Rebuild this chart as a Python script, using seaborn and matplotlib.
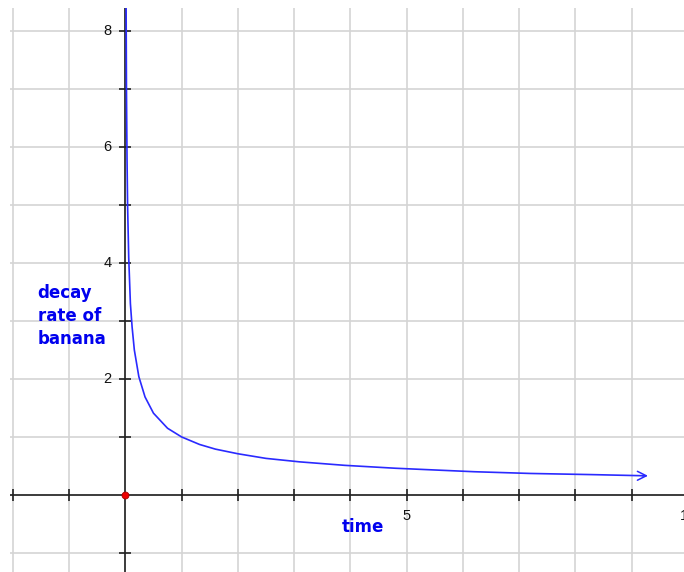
import matplotlib
matplotlib.use("Agg")
import matplotlib.pyplot as plt
import seaborn as sns
import pandas as pd

# values
time_vals = [0.014, 0.02, 0.03, 0.04, 0.06, 0.09, 0.12, 0.16, 0.24, 0.35, 0.5, 0.75,
             1.0, 1.32, 1.6, 2.0, 2.5, 3.1, 3.9, 4.8, 5.5, 6.2, 7.2, 8.3, 9.24]
decay_vals = [8.4, 7.0, 5.8, 5.0, 4.1, 3.3, 2.9, 2.5, 2.04, 1.69, 1.41, 1.15,
              1.0, 0.87, 0.79, 0.71, 0.63, 0.57, 0.51, 0.46, 0.43, 0.40, 0.37, 0.35, 0.33]
x_grid = [-2, -1, 0, 1, 2, 3, 4, 5, 6, 7, 8, 9]
y_grid = [-1, 0, 1, 2, 3, 4, 5, 6, 7, 8]
x_tick_marks = [-2, -1, 1, 2, 3, 4, 5, 6, 7, 8, 9]
y_tick_marks = [-1, 1, 2, 3, 4, 5, 6, 7, 8]
x_labels = {5: "5", 10: "10"}
y_labels = {2: "2", 4: "4", 6: "6", 8: "8"}
y_title = "decay\nrate of\nbanana"
x_title = "time"

sns.set_style("white")
plt.rcParams["font.family"] = ["Liberation Sans", "DejaVu Sans"]

fig = plt.figure(figsize=(6.84, 5.72), dpi=100)
ax = fig.add_axes([10 / 684, 0, 674 / 684, 564 / 572])
ax.set_xlim(-2.05, 9.93)
ax.set_ylim(-1.33, 8.40)

ax.set_xticks(x_grid)
ax.set_yticks(y_grid)
ax.grid(True, color="#d4d4d4", lw=1.2)
ax.tick_params(length=0, labelbottom=False, labelleft=False)
for s in ax.spines.values():
    s.set_visible(False)

ax.axhline(0, color="#222222", lw=1.2, zorder=2)
ax.axvline(0, color="#222222", lw=1.2, zorder=2)
ax.plot(x_tick_marks, [0] * len(x_tick_marks), ls="none", marker="|", ms=9, mew=1.2, color="#222222", zorder=2)
ax.plot([0] * len(y_tick_marks), y_tick_marks, ls="none", marker="_", ms=9, mew=1.2, color="#222222", zorder=2)

for v, t in x_labels.items():
    ax.text(v, -0.24, t, ha="center", va="top", fontsize=10.5, color="#111111", clip_on=False)
for v, t in y_labels.items():
    ax.text(-0.24, v, t, ha="right", va="center", fontsize=10.5, color="#111111")

df = pd.DataFrame({"time": time_vals, "decay": decay_vals})
sns.lineplot(data=df, x="time", y="decay", color="#2a2aff", lw=1.2, estimator=None,
             sort=True, ax=ax, zorder=3)
ax.set_xlabel("")
ax.set_ylabel("")
ax.annotate("", xy=(time_vals[-1] + 0.05, decay_vals[-1]), xytext=(time_vals[-1] - 0.05, decay_vals[-1]),
            arrowprops=dict(arrowstyle="->", color="#2a2aff", lw=1.1, mutation_scale=16,
                            shrinkA=0, shrinkB=0), zorder=3)

ax.plot([0], [0], marker="o", ms=5, color="#ee0000", mec="#aa0000", mew=0.6, zorder=4)

ax.text(-1.56, 3.64, y_title, ha="left", va="top", fontsize=12, fontweight="bold",
        color="#0000ee", family="DejaVu Sans", linespacing=1.35)
ax.text(3.85, -0.39, x_title, ha="left", va="top", fontsize=12, fontweight="bold",
        color="#0000ee", family="DejaVu Sans")

fig.savefig("out.png", dpi=100)
